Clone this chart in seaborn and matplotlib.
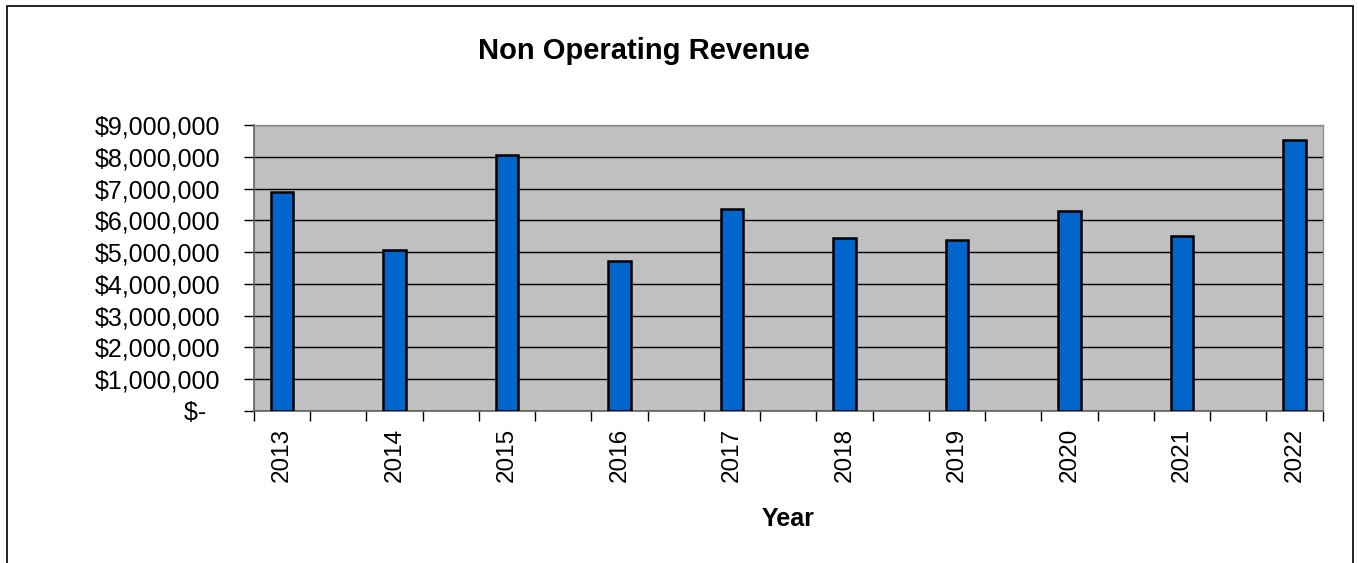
import matplotlib.pyplot as plt
import seaborn as sns
import numpy as np
import pandas as pd
from matplotlib.patches import Rectangle
from matplotlib.ticker import FuncFormatter

# Non operating revenue by year
years = ['2013', '2014', '2015', '2016', '2017', '2018', '2019', '2020', '2021', '2022']
revenue = [6900000, 5060000, 8070000, 4720000, 6350000, 5450000, 5370000, 6290000, 5510000, 8520000]

df = pd.DataFrame({'Year': years, 'Revenue': revenue})

sns.set_style('white')
plt.rcParams['font.family'] = ['Liberation Sans', 'DejaVu Sans']
plt.rcParams['text.color'] = 'black'
plt.rcParams['axes.labelcolor'] = 'black'
plt.rcParams['xtick.color'] = 'black'
plt.rcParams['ytick.color'] = 'black'

fig = plt.figure(figsize=(13.58, 5.63), dpi=100)
ax = fig.add_axes([0.187, 0.270, 0.787, 0.508])
ax.set_facecolor('#C0C0C0')

sns.barplot(data=df, x='Year', y='Revenue', order=years, color='#0066CC',
            width=0.2, saturation=1, edgecolor='black', linewidth=1.8, ax=ax, zorder=3)

# y axis: 0 to 9M, dollar format like Excel accounting
ax.set_ylim(0, 9000000)
ax.set_yticks(np.arange(0, 9000001, 1000000))
ax.yaxis.set_major_formatter(FuncFormatter(lambda v, p: '$-  ' if v == 0 else f'${v:,.0f}'))
ax.grid(axis='y', color='black', linewidth=1, zorder=1)
ax.set_axisbelow(True)

# x axis: labels at bar centres, tick marks every half category
ax.set_xlim(-0.25, 9.25)
ax.set_xticks(range(len(years)))
ax.set_xticklabels(years, rotation=90)
ax.set_xticks(np.arange(-0.25, 9.3, 0.5), minor=True)
ax.tick_params(axis='x', which='major', length=0, pad=12, labelsize=17.5)
ax.tick_params(axis='x', which='minor', length=7, width=1, direction='out')
ax.tick_params(axis='y', length=7, width=1, direction='out', labelsize=18, pad=17)
ax.tick_params(left=True, bottom=True, which='both')

ax.set_xlabel('Year', fontsize=18, fontweight='bold', labelpad=18)
ax.set_ylabel('')

for side in ['left', 'bottom']:
    ax.spines[side].set_color('#606060')
    ax.spines[side].set_linewidth(1.2)
for side in ['top', 'right']:
    ax.spines[side].set_color('#909090')
    ax.spines[side].set_linewidth(1)

fig.text(0.474, 0.91, 'Non Operating Revenue', ha='center', va='center',
         fontsize=21, fontweight='bold')

# outer chart frame
fig.patches.append(Rectangle((0.005, -0.05), 0.991, 1.039, transform=fig.transFigure,
                             fill=False, edgecolor='black', linewidth=1.2))

fig.savefig('out.png', dpi=100)
